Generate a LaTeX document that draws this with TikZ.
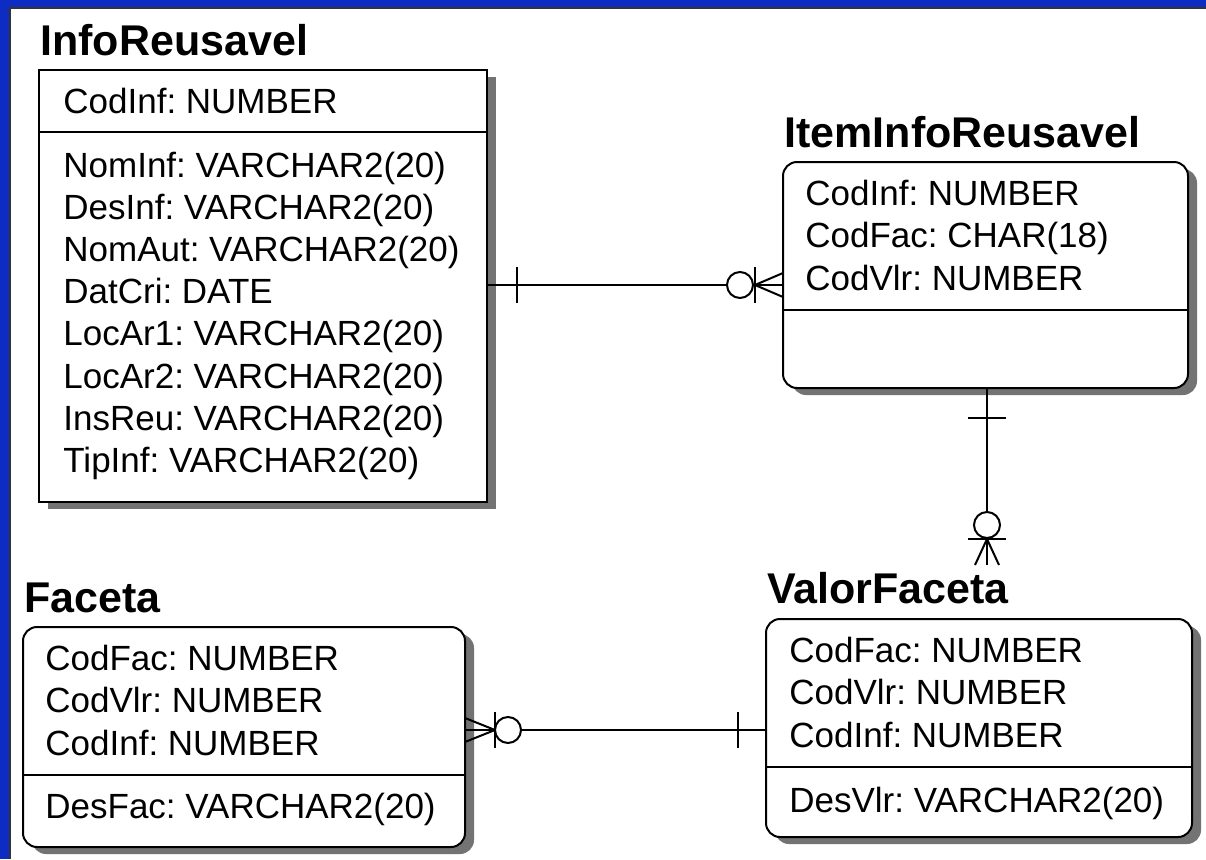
\documentclass[tikz,border=0pt]{standalone}
\usepackage{fontspec}
\setmainfont{Liberation Sans}
\usepackage{tikz}
\usetikzlibrary{shadows}
\definecolor{slideblue}{RGB}{12,44,196}
\frenchspacing

\begin{document}
\begin{tikzpicture}[x=0.5pt, y=-0.5pt,
  entity/.style={draw, line width=1pt, fill=white, inner sep=0pt, outer sep=0pt,
    anchor=north west,
    drop shadow={shadow xshift=4.5pt, shadow yshift=-3.5pt, fill=black!55, opacity=1}},
  weak/.style={entity, rounded corners=7pt},
  title/.style={font=\fontsize{21.5}{26}\selectfont\bfseries, inner sep=0pt, anchor=base west},
  attr/.style={font=\fontsize{17.5}{21}\selectfont, inner sep=0pt, anchor=base west},
  link/.style={line width=1pt},
  ring/.style={link, fill=white}]
  \useasboundingbox (0,0) rectangle (1206,859);
  % slide frame
  \fill[slideblue] (0,0) rectangle (1206,859);
  \fill[white] (10,8) rectangle (1206,859);
  \draw[line width=0.8pt, black!80] (10,859) -- (10,8) -- (1206,8);

  % Define entities
  \node[entity, minimum width=224pt, minimum height=216pt] (info) at (39,70) {};
  \node[weak, minimum width=202.5pt, minimum height=113pt] (item) at (783,162) {};
  \node[weak, minimum width=213pt, minimum height=109pt] (valor) at (766,619) {};
  \node[weak, minimum width=221pt, minimum height=110pt] (faceta) at (23,627) {};
  \draw[link] (info.west |- 0,132) -- (info.east |- 0,132);
  \draw[link] (item.west |- 0,310) -- (item.east |- 0,310);
  \draw[link] (valor.west |- 0,767) -- (valor.east |- 0,767);
  \draw[link] (faceta.west |- 0,775) -- (faceta.east |- 0,775);

  \node[title] (info-t) at (40,55) {InfoReusavel};
  \node[title] (item-t) at (784,147) {ItemInfoReusavel};
  \node[title] (valor-t) at (767,603) {ValorFaceta};
  \node[title] (faceta-t) at (24,612) {Faceta};

  % Attributes
  \node[attr] (info-k) at (63,113) {CodInf: NUMBER};
  \foreach \a [count=\i from 0] in {NomInf: VARCHAR2(20), DesInf: VARCHAR2(20),
      NomAut: VARCHAR2(20), DatCri: DATE, LocAr1: VARCHAR2(20), LocAr2: VARCHAR2(20),
      InsReu: VARCHAR2(20), TipInf: VARCHAR2(20)}
    \node[attr] (info-\i) at (63,{177+42.2*\i}) {\a};
  \foreach \a [count=\i from 0] in {CodInf: NUMBER, CodFac: CHAR(18), CodVlr: NUMBER}
    \node[attr] (item-\i) at (805,{205+42.5*\i}) {\a};
  \foreach \a [count=\i from 0] in {CodFac: NUMBER, CodVlr: NUMBER, CodInf: NUMBER}
    \node[attr] (valor-\i) at (789,{662+42.5*\i}) {\a};
  \node[attr] (valor-d) at (789,812) {DesVlr: VARCHAR2(20)};
  \foreach \a [count=\i from 0] in {CodFac: NUMBER, CodVlr: NUMBER, CodInf: NUMBER}
    \node[attr] (faceta-\i) at (45,{670+42.5*\i}) {\a};
  \node[attr] (faceta-d) at (45,818) {DesFac: VARCHAR2(20)};

  % Connect entities
  % InfoReusavel -- ItemInfoReusavel
  \coordinate (r1a) at (info.east |- 0,285);
  \coordinate (r1b) at (item.west |- 0,285);
  \draw[link] (r1a) -- (r1b);
  \draw[link] ([shift={(30,-18)}]r1a) -- ([shift={(30,18)}]r1a);
  \draw[link] ([shift={(-28,-18)}]r1b) -- ([shift={(-28,18)}]r1b);
  \draw[link] ([shift={(0,-12)}]r1b) -- ([shift={(-28,0)}]r1b) -- ([shift={(0,12)}]r1b);
  \draw[ring] ([shift={(-43,0)}]r1b) circle (6.5pt);
  % ItemInfoReusavel -- ValorFaceta
  \coordinate (r2a) at (item.south -| 987,0);
  \coordinate (r2b) at (987,565);
  \draw[link] (r2a) -- (r2b);
  \draw[link] ([shift={(-19,30)}]r2a) -- ([shift={(19,30)}]r2a);
  \draw[link] ([shift={(-19,-26)}]r2b) -- ([shift={(19,-26)}]r2b);
  \draw[link] ([shift={(-12,0)}]r2b) -- ([shift={(0,-26)}]r2b) -- ([shift={(12,0)}]r2b);
  \draw[ring] ([shift={(0,-40)}]r2b) circle (6.5pt);
  % Faceta -- ValorFaceta
  \coordinate (r3a) at (faceta.east |- 0,730);
  \coordinate (r3b) at (valor.west |- 0,730);
  \draw[link] (r3a) -- (r3b);
  \draw[link] ([shift={(-28,-18)}]r3b) -- ([shift={(-28,18)}]r3b);
  \draw[link] ([shift={(30,-18)}]r3a) -- ([shift={(30,18)}]r3a);
  \draw[link] ([shift={(0,-12)}]r3a) -- ([shift={(30,0)}]r3a) -- ([shift={(0,12)}]r3a);
  \draw[ring] ([shift={(43,0)}]r3a) circle (6.5pt);
\end{tikzpicture}
\end{document}
